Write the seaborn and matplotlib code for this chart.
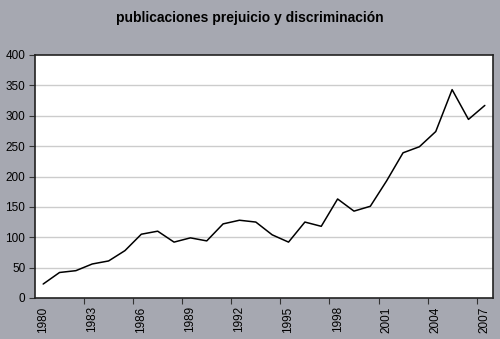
import matplotlib
matplotlib.use("Agg")
import matplotlib.pyplot as plt
import seaborn as sns
import pandas as pd
import numpy as np

years = list(range(1980, 2008))
publicaciones = [23, 42, 45, 56, 61, 78, 105, 110, 92, 99, 94, 122, 128, 125,
                 104, 92, 125, 118, 163, 143, 151, 193, 239, 249, 274, 343, 294, 317]
label_years = [1980, 1983, 1986, 1989, 1992, 1995, 1998, 2001, 2004, 2007]
y_ticks = [0, 50, 100, 150, 200, 250, 300, 350, 400]
title = "publicaciones prejuicio y discriminación"

df = pd.DataFrame({"year": years, "value": publicaciones})

sns.set_theme(style="white")
plt.rcParams['font.family'] = ['Liberation Sans', 'DejaVu Sans']
plt.rcParams['text.color'] = 'black'
plt.rcParams['xtick.color'] = 'black'
plt.rcParams['ytick.color'] = 'black'

bg = "#a6a8b1"
fig = plt.figure(figsize=(5.0, 3.39), dpi=100, facecolor=bg)
ax = fig.add_axes([35/500, 1-298/339, (493-35)/500, (298-55)/339])
ax.set_facecolor("white")

for v in y_ticks[1:-1]:
    ax.axhline(v, color="#cccccc", lw=1.0, zorder=0)

sns.lineplot(data=df, x="year", y="value", ax=ax, color="black", lw=1.1)

ax.set_xlim(1979.5, 2007.5)
ax.set_ylim(0, 400)
ax.set_yticks(y_ticks)
ax.set_yticklabels([str(v) for v in y_ticks], fontsize=8.5)
ax.set_xticks(label_years)
ax.set_xticklabels([str(y) for y in label_years], rotation=90, fontsize=8.5)
ax.tick_params(axis="x", which="major", length=0, pad=6, labelcolor="black")
ax.set_xticks([y - 0.5 for y in label_years[1:]], minor=True)
ax.tick_params(axis="x", which="minor", length=4, width=0.8, color="#333333", direction="out", bottom=True)
ax.tick_params(axis="y", which="major", length=4, width=0.8, color="#333333", direction="out", left=True, pad=3, labelcolor="black")
ax.set_xlabel("")
ax.set_ylabel("")
for s in ax.spines.values():
    s.set_visible(True)
    s.set_color("#222222")
    s.set_linewidth(1.2)

fig.text(0.5, 1-18/339, title, ha="center", va="center", fontsize=10, fontweight="bold", color="black")

fig.savefig("out.png", dpi=100, facecolor=bg)
